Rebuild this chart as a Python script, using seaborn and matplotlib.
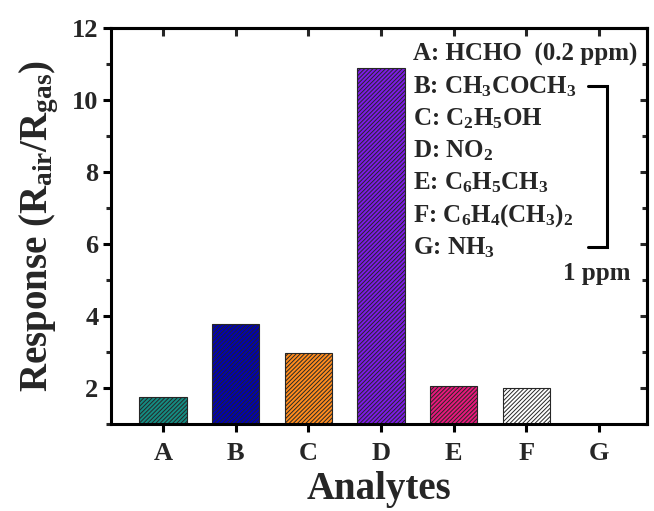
import matplotlib
matplotlib.use("Agg")
import matplotlib.pyplot as plt
from matplotlib.ticker import MultipleLocator
import seaborn as sns
import pandas as pd

# Gas-sensing response of each analyte
analytes = ["A", "B", "C", "D", "E", "F", "G"]
responses = [1.75, 3.77, 2.97, 10.89, 2.05, 2.0, 1.0]
bar_colors = ["#148c82", "#0000b4", "#ff8c1e", "#7d1ae6", "#e8187c", "#ffffff", "#ffffff"]

legend_lines = [
    r"A: HCHO  (0.2 ppm)",
    r"B: CH$_3$COCH$_3$",
    r"C: C$_2$H$_5$OH",
    r"D: NO$_2$",
    r"E: C$_6$H$_5$CH$_3$",
    r"F: C$_6$H$_4$(CH$_3$)$_2$",
    r"G: NH$_3$",
]

sns.set_theme(style="ticks")
plt.rcParams.update({
    "font.family": ["Liberation Serif", "DejaVu Serif"],
    "font.weight": "bold",
    "axes.labelweight": "bold",
    "mathtext.fontset": "custom",
    "mathtext.rm": "Liberation Serif:bold",
    "mathtext.it": "Liberation Serif:bold",
    "mathtext.bf": "Liberation Serif:bold",
    "mathtext.default": "rm",
    "hatch.linewidth": 0.7,
})

df = pd.DataFrame({"Analyte": analytes, "Response": responses})

fig = plt.figure(figsize=(6.54, 5.11), dpi=100)
ax = fig.add_axes([0.1697, 0.1703, 0.8193, 0.7747])

sns.barplot(data=df, x="Analyte", y="Response", hue="Analyte",
            palette=bar_colors, saturation=1, width=0.65, legend=False, ax=ax,
            edgecolor="#262626", linewidth=0.8)

for patch in ax.patches:
    patch.set_hatch("////////")

ax.set_ylim(1, 12)
ax.set_xlim(-0.715, 6.66)
ax.yaxis.set_major_locator(MultipleLocator(2))
ax.yaxis.set_minor_locator(MultipleLocator(1))
ax.set_yticks([2, 4, 6, 8, 10, 12])

for side in ["left", "right", "top", "bottom"]:
    ax.spines[side].set_visible(True)
    ax.spines[side].set_linewidth(2.2)
    ax.spines[side].set_color("black")

ax.tick_params(axis="y", which="major", labelsize=19, width=2.2, length=6,
               color="black", direction="out", pad=3)
ax.tick_params(axis="y", which="minor", width=2.2, length=3.5, direction="out")
ax.tick_params(axis="x", which="major", labelsize=19, width=2.2, length=6,
               color="black", direction="out", pad=7, bottom=True, top=False)
for lbl in ax.get_xticklabels() + ax.get_yticklabels():
    lbl.set_fontweight("bold")

# mirrored inward ticks on top and right
secx = ax.secondary_xaxis("top")
secx.set_xticks(range(len(analytes)))
secx.tick_params(direction="in", length=6, width=2.2, labeltop=False)
secx.spines["top"].set_linewidth(2.2)
secy = ax.secondary_yaxis("right")
secy.yaxis.set_major_locator(MultipleLocator(2))
secy.yaxis.set_minor_locator(MultipleLocator(1))
secy.tick_params(which="major", direction="in", length=5, width=2.2, labelright=False)
secy.tick_params(which="minor", direction="in", length=3.5, width=2.2)
secy.spines["right"].set_linewidth(2.2)

ax.set_xlabel("Analytes", fontsize=28, fontweight="bold", labelpad=4)
ax.set_ylabel(r"Response (R$_{air}$/R$_{gas}$)", fontsize=28, fontweight="bold", labelpad=8)

# analyte key
y0, dy = 0.934, 0.0813
for i, line in enumerate(legend_lines):
    ax.text(0.563, y0 - i * dy, line, transform=ax.transAxes, fontsize=18,
            fontweight="bold", va="center", ha="left")

# bracket grouping the 1 ppm analytes
yb_top, yb_bot = y0 - dy, y0 - 6 * dy
ax.plot([0.890, 0.925, 0.925, 0.890], [yb_top, yb_top, yb_bot, yb_bot],
        transform=ax.transAxes, color="black", lw=2.2, clip_on=False,
        solid_joinstyle="miter")
ax.text(0.907, 0.381, "1 ppm", transform=ax.transAxes, fontsize=18,
        fontweight="bold", va="center", ha="center")

fig.savefig("out.png", dpi=100)
